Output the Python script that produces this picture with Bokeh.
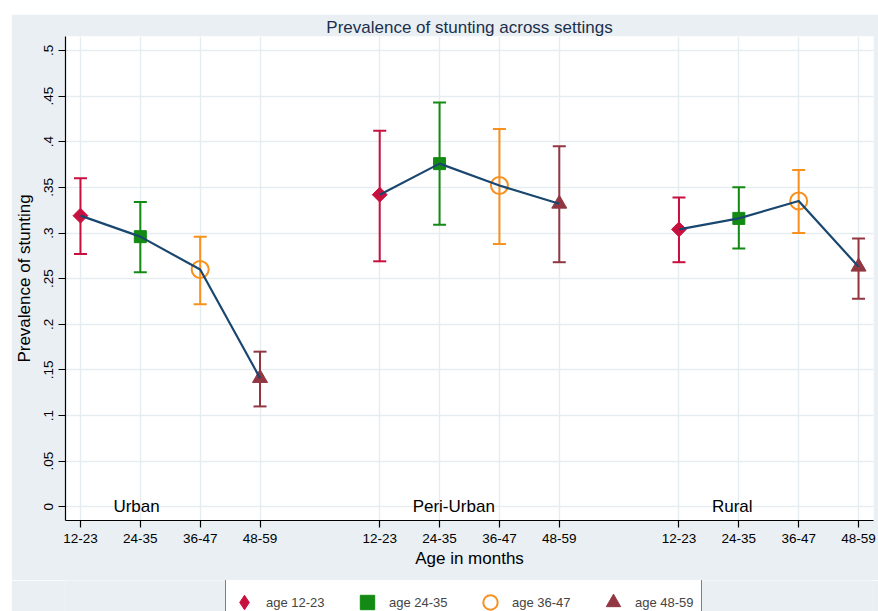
import math
from bokeh.plotting import figure
from bokeh.layouts import column, row
from bokeh.models import FixedTicker, Legend, LegendItem, ColumnDataSource, Whisker, TeeHead, Spacer
from bokeh.embed import file_html
from bokeh.resources import INLINE
from bokeh.core.properties import value

# ---- data ----
settings = ["Urban", "Peri-Urban", "Rural"]
ages = ["12-23", "24-35", "36-47", "48-59"]
age_labels = ["age 12-23", "age 24-35", "age 36-47", "age 48-59"]

urban_mean = [0.319, 0.296, 0.260, 0.141]
urban_lo = [0.277, 0.257, 0.222, 0.110]
urban_hi = [0.360, 0.334, 0.296, 0.170]

periurban_mean = [0.342, 0.376, 0.352, 0.332]
periurban_lo = [0.269, 0.309, 0.288, 0.268]
periurban_hi = [0.412, 0.443, 0.414, 0.395]

rural_mean = [0.304, 0.316, 0.335, 0.263]
rural_lo = [0.268, 0.283, 0.300, 0.228]
rural_hi = [0.339, 0.350, 0.369, 0.294]

y_ticks = [0, 0.05, 0.1, 0.15, 0.2, 0.25, 0.3, 0.35, 0.4, 0.45, 0.5]
y_tick_labels = ["0", ".05", ".1", ".15", ".2", ".25", ".3", ".35", ".4", ".45", ".5"]

means = [urban_mean, periurban_mean, rural_mean]
los = [urban_lo, periurban_lo, rural_lo]
his = [urban_hi, periurban_hi, rural_hi]

# ---- styles ----
FONT = "Liberation Sans"
BG = "#e9eff3"
GRID = "#e6edf1"
LINE = "#1a476f"
colors = ["#c8103e", "#138a13", "#f7901e", "#923742"]

def xpos(g, i):
    return g * 5 + i + 1

p = figure(width=867, height=566, x_range=(0.75, 14.25), y_range=(-0.015, 0.5153),
           output_backend="svg", toolbar_location=None,
           min_border_left=54, min_border_right=5, min_border_top=22, min_border_bottom=60)
p.background_fill_color = "white"
p.border_fill_color = BG
p.outline_line_color = None

p.title.text = "Prevalence of stunting across settings"
p.title.align = "center"
p.title.text_font = FONT
p.title.text_font_size = "17px"
p.title.text_font_style = "normal"
p.title.text_color = "#1c2f4d"
p.title.standoff = 0

for i, age in enumerate(ages):
    xs = [xpos(g, i) for g in range(len(settings))]
    src = ColumnDataSource(dict(x=xs,
                                y=[means[g][i] for g in range(len(settings))],
                                lo=[los[g][i] for g in range(len(settings))],
                                hi=[his[g][i] for g in range(len(settings))]))
    w = Whisker(base="x", upper="hi", lower="lo", source=src,
                line_color=colors[i], line_width=2,
                upper_head=TeeHead(size=13, line_color=colors[i], line_width=2),
                lower_head=TeeHead(size=13, line_color=colors[i], line_width=2))
    p.add_layout(w)
    if i == 0:
        p.scatter("x", "y", source=src, marker="square", angle=math.pi / 4, size=10.5,
                  fill_color=colors[i], line_color=colors[i])
    elif i == 1:
        p.scatter("x", "y", source=src, marker="square", size=12,
                  fill_color=colors[i], line_color=colors[i])
    elif i == 2:
        p.scatter("x", "y", source=src, marker="circle", size=17,
                  fill_color=None, line_color=colors[i], line_width=2)
    else:
        p.scatter("x", "y", source=src, marker="triangle", size=15,
                  fill_color=colors[i], line_color=colors[i])

for g in range(len(settings)):
    p.line([xpos(g, i) for i in range(len(ages))], means[g], line_color=LINE, line_width=2.2)

p.text(x=[xpos(g, 0) + 0.55 for g in range(len(settings))], y=[0] * len(settings), text=settings,
       text_font=value(FONT), text_font_size="17px", text_baseline="middle", text_align="left",
       text_color="black")

xt = [xpos(g, i) for g in range(len(settings)) for i in range(len(ages))]
p.xaxis.ticker = FixedTicker(ticks=xt)
p.xaxis.major_label_overrides = {x: ages[k % 4] for k, x in enumerate(xt)}
p.yaxis.ticker = FixedTicker(ticks=y_ticks)
p.yaxis.major_label_overrides = {t: l for t, l in zip(y_ticks, y_tick_labels)}
p.yaxis.major_label_orientation = "vertical"

for ax in (p.xaxis[0], p.yaxis[0]):
    ax.axis_line_color = "black"
    ax.axis_line_width = 1.2
    ax.major_tick_line_color = "black"
    ax.major_tick_line_width = 1.2
    ax.major_tick_out = 7
    ax.major_tick_in = 0
    ax.minor_tick_line_color = None
    ax.major_label_text_font = FONT
    ax.major_label_text_font_size = "13.5px"
    ax.major_label_text_color = "black"
    ax.axis_label_text_font = FONT
    ax.axis_label_text_font_size = "17px"
    ax.axis_label_text_font_style = "normal"
    ax.axis_label_text_color = "black"

p.xaxis.axis_label = "Age in months"
p.yaxis.axis_label = "Prevalence of stunting"
p.xaxis.major_label_standoff = 6
p.xaxis.axis_label_standoff = 3
p.yaxis.major_label_standoff = 5
p.yaxis.axis_label_standoff = 8

p.xgrid.grid_line_color = GRID
p.ygrid.grid_line_color = GRID
p.xgrid.grid_line_width = 1.5
p.ygrid.grid_line_width = 1.5

# ---- legend strip (separate small figure below, same background) ----
# its ranges are set away from the data so the key renderers themselves stay hidden
p2 = figure(width=867, height=31, x_range=(100, 101), y_range=(100, 101),
            output_backend="svg", toolbar_location=None,
            x_axis_location=None, y_axis_location=None, min_border=0)
p2.background_fill_color = BG
p2.border_fill_color = BG
p2.outline_line_color = None
p2.xgrid.visible = False
p2.ygrid.visible = False

legend_markers = ["diamond", "square", "circle", "triangle"]
legend_sizes = [18, 13, 18, 16]
leg_rs = []
for i in range(4):
    kw = dict(fill_color=colors[i], line_color=colors[i])
    if i == 2:
        kw = dict(fill_color=None, line_color=colors[i], line_width=2)
    r = p2.scatter(x=[xpos(0, i)], y=[means[0][i]], marker=legend_markers[i],
                   size=legend_sizes[i], **kw)
    leg_rs.append(r)

legend = Legend(items=[LegendItem(label=age_labels[i], renderers=[leg_rs[i]]) for i in range(4)],
                orientation="horizontal", location=(160, -14),
                border_line_color="black", border_line_width=1.2,
                background_fill_color="white", background_fill_alpha=1,
                label_text_font=FONT, label_text_font_size="13px",
                glyph_width=36, glyph_height=44, label_standoff=4, label_width=66, spacing=17,
                padding=0, margin=0)
p2.add_layout(legend, "center")

layout = column(Spacer(width=878, height=14),
                row(Spacer(width=11, height=597), column(p, p2, spacing=0), spacing=0),
                spacing=0)
open("out.html", "w").write(file_html(layout, INLINE))
